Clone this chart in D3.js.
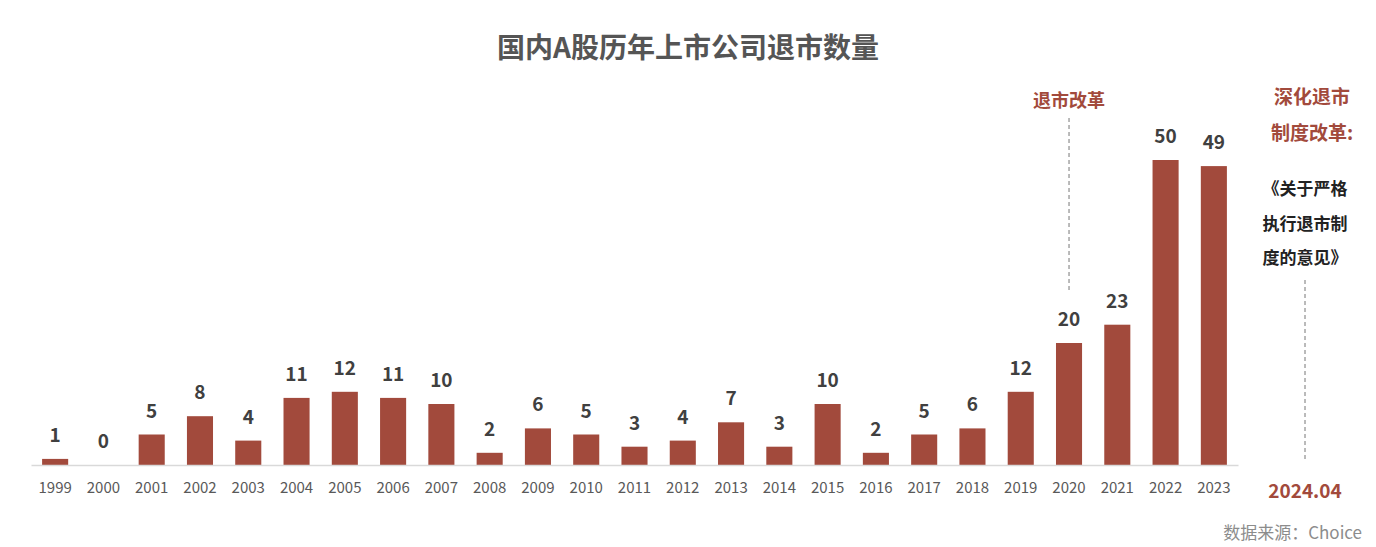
<!DOCTYPE html>
<html><head><meta charset="utf-8">
<script src="https://cdn.jsdelivr.net/npm/d3@7"></script>
<style>body{margin:0;background:#fff;font-family:"Noto Sans CJK SC","Noto Sans",sans-serif}</style>
</head><body>
<svg id="c" width="1376" height="547"></svg>
<script>
const years=["1999","2000","2001","2002","2003","2004","2005","2006","2007","2008","2009","2010","2011","2012","2013","2014","2015","2016","2017","2018","2019","2020","2021","2022","2023"];
const counts=[1,0,5,8,4,11,12,11,10,2,6,5,3,4,7,3,10,2,5,6,12,20,23,50,49];
const svg=d3.select("#c");
const red="#a24a3c";
const x=d3.scaleBand().domain(years).range([31,1238]).paddingInner(0.46).paddingOuter(0.23);
const y=d3.scaleLinear().domain([0,50]).range([465,160]);
svg.append("text").attr("x",688).attr("y",58).attr("text-anchor","middle").attr("font-size",28).attr("font-weight","bold").attr("fill","#555").text("国内A股历年上市公司退市数量");
svg.selectAll("rect.b").data(counts).join("rect").attr("x",(d,i)=>x(years[i])).attr("width",x.bandwidth()).attr("y",d=>y(d)).attr("height",d=>y(0)-y(d)).attr("fill",red);
svg.selectAll("text.v").data(counts).join("text").attr("x",(d,i)=>x(years[i])+x.bandwidth()/2).attr("y",d=>y(d)-17).attr("text-anchor","middle").attr("font-size",19).attr("font-weight","bold").attr("fill","#404040").text(d=>d);
const ax=svg.append("g").attr("transform","translate(0,465)").call(d3.axisBottom(x).tickSize(0).tickPadding(17));
ax.select(".domain").attr("stroke","#d9d9d9").attr("stroke-width",1.5);
ax.selectAll("text").attr("font-size",15).attr("fill","#595959").attr("font-family","Noto Sans CJK SC,sans-serif");
const xa=x("2020")+x.bandwidth()/2;
svg.append("text").attr("x",xa).attr("y",107).attr("text-anchor","middle").attr("font-size",18).attr("font-weight","bold").attr("fill",red).text("退市改革");
svg.append("line").attr("x1",xa).attr("x2",xa).attr("y1",118).attr("y2",292).attr("stroke","#777").attr("stroke-dasharray","4,3");
const rx=1312;
[["深化退市",104,red,19],["制度改革:",140,red,19]].forEach(t=>svg.append("text").attr("x",rx).attr("y",t[1]).attr("text-anchor","middle").attr("font-size",t[3]).attr("font-weight","bold").attr("fill",t[2]).text(t[0]));
[["《关于严格",195],["执行退市制",230],["度的意见》",264]].forEach(t=>svg.append("text").attr("x",1305).attr("y",t[1]).attr("text-anchor","middle").attr("font-size",17).attr("font-weight","bold").attr("fill","#222").text(t[0]));
svg.append("line").attr("x1",1305).attr("x2",1305).attr("y1",280).attr("y2",462).attr("stroke","#777").attr("stroke-dasharray","4,3");
svg.append("text").attr("x",1305).attr("y",498).attr("text-anchor","middle").attr("font-size",19).attr("font-weight","bold").attr("fill",red).text("2024.04");
svg.append("text").attr("x",1362).attr("y",539).attr("text-anchor","end").attr("font-size",17).attr("fill","#8c8c8c").text("数据来源：Choice");
</script></body></html>
